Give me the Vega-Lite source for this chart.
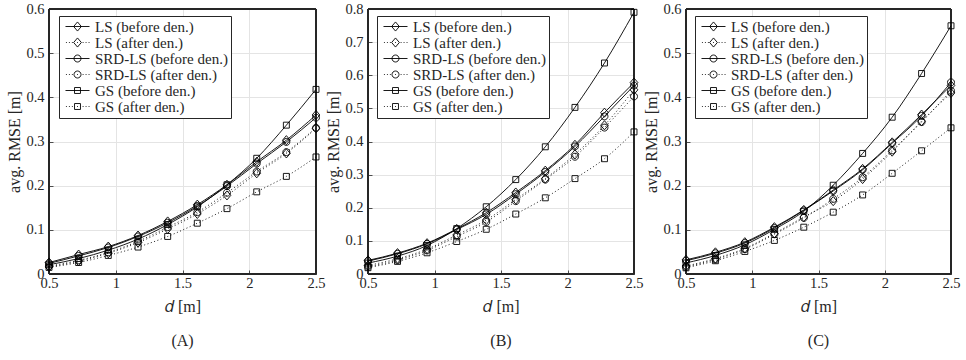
{
"$schema": "https://vega.github.io/schema/vega-lite/v6.json",
"background": "white",
"padding": {"left": 6, "top": 0, "right": 4, "bottom": 4},
"bounds": "flush",
"datasets": {"rmse": [
{"p":"A","s":"LS (before den.)","d":0.5,"v":0.026},{"p":"A","s":"LS (before den.)","d":0.722,"v":0.044},{"p":"A","s":"LS (before den.)","d":0.944,"v":0.062},{"p":"A","s":"LS (before den.)","d":1.167,"v":0.087},{"p":"A","s":"LS (before den.)","d":1.389,"v":0.119},{"p":"A","s":"LS (before den.)","d":1.611,"v":0.157},{"p":"A","s":"LS (before den.)","d":1.833,"v":0.202},{"p":"A","s":"LS (before den.)","d":2.056,"v":0.254},{"p":"A","s":"LS (before den.)","d":2.278,"v":0.303},{"p":"A","s":"LS (before den.)","d":2.5,"v":0.36},
{"p":"A","s":"LS (after den.)","d":0.5,"v":0.016},{"p":"A","s":"LS (after den.)","d":0.722,"v":0.029},{"p":"A","s":"LS (after den.)","d":0.944,"v":0.047},{"p":"A","s":"LS (after den.)","d":1.167,"v":0.071},{"p":"A","s":"LS (after den.)","d":1.389,"v":0.102},{"p":"A","s":"LS (after den.)","d":1.611,"v":0.136},{"p":"A","s":"LS (after den.)","d":1.833,"v":0.178},{"p":"A","s":"LS (after den.)","d":2.056,"v":0.228},{"p":"A","s":"LS (after den.)","d":2.278,"v":0.273},{"p":"A","s":"LS (after den.)","d":2.5,"v":0.33},
{"p":"A","s":"SRD-LS (before den.)","d":0.5,"v":0.024},{"p":"A","s":"SRD-LS (before den.)","d":0.722,"v":0.041},{"p":"A","s":"SRD-LS (before den.)","d":0.944,"v":0.06},{"p":"A","s":"SRD-LS (before den.)","d":1.167,"v":0.085},{"p":"A","s":"SRD-LS (before den.)","d":1.389,"v":0.116},{"p":"A","s":"SRD-LS (before den.)","d":1.611,"v":0.154},{"p":"A","s":"SRD-LS (before den.)","d":1.833,"v":0.199},{"p":"A","s":"SRD-LS (before den.)","d":2.056,"v":0.25},{"p":"A","s":"SRD-LS (before den.)","d":2.278,"v":0.299},{"p":"A","s":"SRD-LS (before den.)","d":2.5,"v":0.354},
{"p":"A","s":"SRD-LS (after den.)","d":0.5,"v":0.018},{"p":"A","s":"SRD-LS (after den.)","d":0.722,"v":0.031},{"p":"A","s":"SRD-LS (after den.)","d":0.944,"v":0.049},{"p":"A","s":"SRD-LS (after den.)","d":1.167,"v":0.074},{"p":"A","s":"SRD-LS (after den.)","d":1.389,"v":0.106},{"p":"A","s":"SRD-LS (after den.)","d":1.611,"v":0.14},{"p":"A","s":"SRD-LS (after den.)","d":1.833,"v":0.184},{"p":"A","s":"SRD-LS (after den.)","d":2.056,"v":0.232},{"p":"A","s":"SRD-LS (after den.)","d":2.278,"v":0.276},{"p":"A","s":"SRD-LS (after den.)","d":2.5,"v":0.331},
{"p":"A","s":"GS (before den.)","d":0.5,"v":0.021},{"p":"A","s":"GS (before den.)","d":0.722,"v":0.035},{"p":"A","s":"GS (before den.)","d":0.944,"v":0.054},{"p":"A","s":"GS (before den.)","d":1.167,"v":0.079},{"p":"A","s":"GS (before den.)","d":1.389,"v":0.112},{"p":"A","s":"GS (before den.)","d":1.611,"v":0.152},{"p":"A","s":"GS (before den.)","d":1.833,"v":0.202},{"p":"A","s":"GS (before den.)","d":2.056,"v":0.262},{"p":"A","s":"GS (before den.)","d":2.278,"v":0.337},{"p":"A","s":"GS (before den.)","d":2.5,"v":0.418},
{"p":"A","s":"GS (after den.)","d":0.5,"v":0.015},{"p":"A","s":"GS (after den.)","d":0.722,"v":0.026},{"p":"A","s":"GS (after den.)","d":0.944,"v":0.042},{"p":"A","s":"GS (after den.)","d":1.167,"v":0.061},{"p":"A","s":"GS (after den.)","d":1.389,"v":0.085},{"p":"A","s":"GS (after den.)","d":1.611,"v":0.115},{"p":"A","s":"GS (after den.)","d":1.833,"v":0.148},{"p":"A","s":"GS (after den.)","d":2.056,"v":0.186},{"p":"A","s":"GS (after den.)","d":2.278,"v":0.221},{"p":"A","s":"GS (after den.)","d":2.5,"v":0.265},
{"p":"B","s":"LS (before den.)","d":0.5,"v":0.041},{"p":"B","s":"LS (before den.)","d":0.722,"v":0.063},{"p":"B","s":"LS (before den.)","d":0.944,"v":0.093},{"p":"B","s":"LS (before den.)","d":1.167,"v":0.136},{"p":"B","s":"LS (before den.)","d":1.389,"v":0.185},{"p":"B","s":"LS (before den.)","d":1.611,"v":0.246},{"p":"B","s":"LS (before den.)","d":1.833,"v":0.312},{"p":"B","s":"LS (before den.)","d":2.056,"v":0.39},{"p":"B","s":"LS (before den.)","d":2.278,"v":0.487},{"p":"B","s":"LS (before den.)","d":2.5,"v":0.578},
{"p":"B","s":"LS (after den.)","d":0.5,"v":0.026},{"p":"B","s":"LS (after den.)","d":0.722,"v":0.046},{"p":"B","s":"LS (after den.)","d":0.944,"v":0.075},{"p":"B","s":"LS (after den.)","d":1.167,"v":0.118},{"p":"B","s":"LS (after den.)","d":1.389,"v":0.163},{"p":"B","s":"LS (after den.)","d":1.611,"v":0.225},{"p":"B","s":"LS (after den.)","d":1.833,"v":0.288},{"p":"B","s":"LS (after den.)","d":2.056,"v":0.361},{"p":"B","s":"LS (after den.)","d":2.278,"v":0.449},{"p":"B","s":"LS (after den.)","d":2.5,"v":0.556},
{"p":"B","s":"SRD-LS (before den.)","d":0.5,"v":0.039},{"p":"B","s":"SRD-LS (before den.)","d":0.722,"v":0.061},{"p":"B","s":"SRD-LS (before den.)","d":0.944,"v":0.091},{"p":"B","s":"SRD-LS (before den.)","d":1.167,"v":0.134},{"p":"B","s":"SRD-LS (before den.)","d":1.389,"v":0.18},{"p":"B","s":"SRD-LS (before den.)","d":1.611,"v":0.241},{"p":"B","s":"SRD-LS (before den.)","d":1.833,"v":0.308},{"p":"B","s":"SRD-LS (before den.)","d":2.056,"v":0.385},{"p":"B","s":"SRD-LS (before den.)","d":2.278,"v":0.476},{"p":"B","s":"SRD-LS (before den.)","d":2.5,"v":0.569},
{"p":"B","s":"SRD-LS (after den.)","d":0.5,"v":0.022},{"p":"B","s":"SRD-LS (after den.)","d":0.722,"v":0.042},{"p":"B","s":"SRD-LS (after den.)","d":0.944,"v":0.071},{"p":"B","s":"SRD-LS (after den.)","d":1.167,"v":0.113},{"p":"B","s":"SRD-LS (after den.)","d":1.389,"v":0.157},{"p":"B","s":"SRD-LS (after den.)","d":1.611,"v":0.22},{"p":"B","s":"SRD-LS (after den.)","d":1.833,"v":0.285},{"p":"B","s":"SRD-LS (after den.)","d":2.056,"v":0.354},{"p":"B","s":"SRD-LS (after den.)","d":2.278,"v":0.442},{"p":"B","s":"SRD-LS (after den.)","d":2.5,"v":0.536},
{"p":"B","s":"GS (before den.)","d":0.5,"v":0.033},{"p":"B","s":"GS (before den.)","d":0.722,"v":0.054},{"p":"B","s":"GS (before den.)","d":0.944,"v":0.086},{"p":"B","s":"GS (before den.)","d":1.167,"v":0.137},{"p":"B","s":"GS (before den.)","d":1.389,"v":0.203},{"p":"B","s":"GS (before den.)","d":1.611,"v":0.285},{"p":"B","s":"GS (before den.)","d":1.833,"v":0.384},{"p":"B","s":"GS (before den.)","d":2.056,"v":0.503},{"p":"B","s":"GS (before den.)","d":2.278,"v":0.637},{"p":"B","s":"GS (before den.)","d":2.5,"v":0.79},
{"p":"B","s":"GS (after den.)","d":0.5,"v":0.019},{"p":"B","s":"GS (after den.)","d":0.722,"v":0.038},{"p":"B","s":"GS (after den.)","d":0.944,"v":0.064},{"p":"B","s":"GS (after den.)","d":1.167,"v":0.098},{"p":"B","s":"GS (after den.)","d":1.389,"v":0.135},{"p":"B","s":"GS (after den.)","d":1.611,"v":0.181},{"p":"B","s":"GS (after den.)","d":1.833,"v":0.23},{"p":"B","s":"GS (after den.)","d":2.056,"v":0.288},{"p":"B","s":"GS (after den.)","d":2.278,"v":0.348},{"p":"B","s":"GS (after den.)","d":2.5,"v":0.429},
{"p":"C","s":"LS (before den.)","d":0.5,"v":0.032},{"p":"C","s":"LS (before den.)","d":0.722,"v":0.049},{"p":"C","s":"LS (before den.)","d":0.944,"v":0.072},{"p":"C","s":"LS (before den.)","d":1.167,"v":0.106},{"p":"C","s":"LS (before den.)","d":1.389,"v":0.145},{"p":"C","s":"LS (before den.)","d":1.611,"v":0.19},{"p":"C","s":"LS (before den.)","d":1.833,"v":0.238},{"p":"C","s":"LS (before den.)","d":2.056,"v":0.298},{"p":"C","s":"LS (before den.)","d":2.278,"v":0.361},{"p":"C","s":"LS (before den.)","d":2.5,"v":0.427},
{"p":"C","s":"LS (after den.)","d":0.5,"v":0.018},{"p":"C","s":"LS (after den.)","d":0.722,"v":0.035},{"p":"C","s":"LS (after den.)","d":0.944,"v":0.058},{"p":"C","s":"LS (after den.)","d":1.167,"v":0.092},{"p":"C","s":"LS (after den.)","d":1.389,"v":0.129},{"p":"C","s":"LS (after den.)","d":1.611,"v":0.165},{"p":"C","s":"LS (after den.)","d":1.833,"v":0.215},{"p":"C","s":"LS (after den.)","d":2.056,"v":0.277},{"p":"C","s":"LS (after den.)","d":2.278,"v":0.346},{"p":"C","s":"LS (after den.)","d":2.5,"v":0.41},
{"p":"C","s":"SRD-LS (before den.)","d":0.5,"v":0.03},{"p":"C","s":"SRD-LS (before den.)","d":0.722,"v":0.047},{"p":"C","s":"SRD-LS (before den.)","d":0.944,"v":0.07},{"p":"C","s":"SRD-LS (before den.)","d":1.167,"v":0.104},{"p":"C","s":"SRD-LS (before den.)","d":1.389,"v":0.144},{"p":"C","s":"SRD-LS (before den.)","d":1.611,"v":0.188},{"p":"C","s":"SRD-LS (before den.)","d":1.833,"v":0.236},{"p":"C","s":"SRD-LS (before den.)","d":2.056,"v":0.296},{"p":"C","s":"SRD-LS (before den.)","d":2.278,"v":0.358},{"p":"C","s":"SRD-LS (before den.)","d":2.5,"v":0.434},
{"p":"C","s":"SRD-LS (after den.)","d":0.5,"v":0.016},{"p":"C","s":"SRD-LS (after den.)","d":0.722,"v":0.033},{"p":"C","s":"SRD-LS (after den.)","d":0.944,"v":0.056},{"p":"C","s":"SRD-LS (after den.)","d":1.167,"v":0.09},{"p":"C","s":"SRD-LS (after den.)","d":1.389,"v":0.127},{"p":"C","s":"SRD-LS (after den.)","d":1.611,"v":0.17},{"p":"C","s":"SRD-LS (after den.)","d":1.833,"v":0.219},{"p":"C","s":"SRD-LS (after den.)","d":2.056,"v":0.28},{"p":"C","s":"SRD-LS (after den.)","d":2.278,"v":0.344},{"p":"C","s":"SRD-LS (after den.)","d":2.5,"v":0.415},
{"p":"C","s":"GS (before den.)","d":0.5,"v":0.025},{"p":"C","s":"GS (before den.)","d":0.722,"v":0.042},{"p":"C","s":"GS (before den.)","d":0.944,"v":0.066},{"p":"C","s":"GS (before den.)","d":1.167,"v":0.101},{"p":"C","s":"GS (before den.)","d":1.389,"v":0.142},{"p":"C","s":"GS (before den.)","d":1.611,"v":0.201},{"p":"C","s":"GS (before den.)","d":1.833,"v":0.273},{"p":"C","s":"GS (before den.)","d":2.056,"v":0.355},{"p":"C","s":"GS (before den.)","d":2.278,"v":0.454},{"p":"C","s":"GS (before den.)","d":2.5,"v":0.562},
{"p":"C","s":"GS (after den.)","d":0.5,"v":0.014},{"p":"C","s":"GS (after den.)","d":0.722,"v":0.03},{"p":"C","s":"GS (after den.)","d":0.944,"v":0.051},{"p":"C","s":"GS (after den.)","d":1.167,"v":0.076},{"p":"C","s":"GS (after den.)","d":1.389,"v":0.106},{"p":"C","s":"GS (after den.)","d":1.611,"v":0.14},{"p":"C","s":"GS (after den.)","d":1.833,"v":0.179},{"p":"C","s":"GS (after den.)","d":2.056,"v":0.228},{"p":"C","s":"GS (after den.)","d":2.278,"v":0.279},{"p":"C","s":"GS (after den.)","d":2.5,"v":0.331}
]},
"config": {
  "font": "Liberation Serif",
  "view": {"stroke": "#262626", "strokeWidth": 1},
  "axis": {"domain": false, "grid": true, "gridColor": "#e4e4e4", "gridWidth": 1, "ticks": true, "tickSize": -4, "tickColor": "#262626", "tickWidth": 0.8, "labelFlush": false, "labelFont": "Liberation Serif", "labelFontSize": 14.5, "labelColor": "#262626", "titleFont": "Liberation Serif", "titleFontSize": 16, "titleFontWeight": "normal", "titleColor": "#262626"},
  "axisX": {"labelPadding": 6, "titlePadding": 9},
  "axisY": {"labelPadding": 9, "titlePadding": 3},
  "legend": {"strokeColor": "#262626", "fillColor": "white", "padding": 3, "labelFont": "Liberation Serif", "labelFontSize": 15, "labelColor": "#262626", "symbolSize": 49, "symbolStrokeWidth": 0.9, "symbolStrokeColor": "black", "symbolFillColor": "transparent", "rowPadding": 0, "labelOffset": 10, "symbolOffset": 8},
  "title": {"font": "Liberation Serif", "fontSize": 16, "fontWeight": "normal", "color": "#262626", "orient": "bottom", "offset": 18}
},
"spacing": 52,
"resolve": {"scale": {"x": "independent", "y": "independent", "shape": "independent"}, "legend": {"shape": "independent"}},
"hconcat": [
{"width": 267, "height": 265, "title": "(A)", "data": {"name": "rmse"}, "transform": [{"filter": "datum.p == 'A'"}],
 "encoding": {"x": {"field": "d", "type": "quantitative", "scale": {"domain": [0.5, 2.5], "nice": false, "padding": 0}, "axis": {"values": [0.5, 1, 1.5, 2, 2.5], "format": "~g", "title": "𝑑 [m]", "gridOpacity": {"condition": {"test": "datum.value <= 0.5 || datum.value >= 2.5", "value": 0}, "value": 1}}},
  "y": {"field": "v", "type": "quantitative", "scale": {"domain": [0, 0.6], "nice": false, "padding": 0}, "axis": {"values": [0, 0.1, 0.2, 0.3, 0.4, 0.5, 0.6], "format": "~g", "title": "avg. RMSE [m]", "gridOpacity": {"condition": {"test": "datum.value <= 0 || datum.value >= 0.6", "value": 0}, "value": 1}}}},
 "layer": [
  {"mark": {"type": "rect", "fill": null, "fillOpacity": 0, "stroke": "#262626", "strokeWidth": 1}, "encoding": {"x": {"datum": 0.5}, "x2": {"datum": 2.5}, "y": {"datum": 0}, "y2": {"datum": 0.6}}},
  {"transform": [{"filter": "test(/before/, datum.s)"}], "mark": {"type": "line", "color": "black", "strokeWidth": 0.9, "interpolate": "monotone"}, "encoding": {"detail": {"field": "s"}}},
  {"transform": [{"filter": "test(/after/, datum.s)"}], "mark": {"type": "line", "color": "black", "strokeWidth": 0.9, "strokeDash": [1, 2.5], "interpolate": "monotone"}, "encoding": {"detail": {"field": "s"}}},
  {"transform": [{"filter": "test(/^LS /, datum.s)"}], "mark": {"type": "point", "shape": "M0,-1.3L1.1,0L0,1.3L-1.1,0Z", "filled": false, "color": "black", "size": 49, "strokeWidth": 0.9, "opacity": 1}},
  {"transform": [{"filter": "test(/^SRD/, datum.s)"}], "mark": {"type": "point", "shape": "M1,0A1,1,0,1,1,-1,0A1,1,0,1,1,1,0Z", "filled": false, "color": "black", "size": 49, "strokeWidth": 0.9, "opacity": 1}},
  {"transform": [{"filter": "test(/^GS/, datum.s)"}], "mark": {"type": "point", "shape": "M-0.85,-0.85H0.85V0.85H-0.85Z", "filled": false, "color": "black", "size": 49, "strokeWidth": 0.9, "opacity": 1}},
  {"mark": {"type": "point", "filled": false, "color": "black", "size": 49, "strokeWidth": 0.9, "opacity": 0},
   "encoding": {"shape": {"field": "s", "type": "nominal", "scale": {"domain": ["LS (before den.)", "LS (after den.)", "SRD-LS (before den.)", "SRD-LS (after den.)", "GS (before den.)", "GS (after den.)"], "range": ["M-3.43,0H3.43M0,-1.3L1.1,0L0,1.3L-1.1,0Z", "M-3.3,0h0.25M-2.45,0h0.25M-1.6,0h0.25M-0.12,0h0.25M1.47,0h0.25M2.32,0h0.25M3.17,0h0.25M0,-1.3L1.1,0L0,1.3L-1.1,0Z", "M-3.43,0H3.43M1,0A1,1,0,1,1,-1,0A1,1,0,1,1,1,0Z", "M-3.3,0h0.25M-2.45,0h0.25M-1.6,0h0.25M-0.12,0h0.25M1.47,0h0.25M2.32,0h0.25M3.17,0h0.25M1,0A1,1,0,1,1,-1,0A1,1,0,1,1,1,0Z", "M-3.43,0H3.43M-0.85,-0.85H0.85V0.85H-0.85Z", "M-3.3,0h0.25M-2.45,0h0.25M-1.6,0h0.25M-0.12,0h0.25M1.47,0h0.25M2.32,0h0.25M3.17,0h0.25M-0.85,-0.85H0.85V0.85H-0.85Z"]}, "legend": {"title": null, "orient": "none", "legendX": 10, "legendY": 7, "encode": {"symbols": {"update": {"opacity": {"value": 1}, "strokeOpacity": {"value": 1}}}}}}}}
 ]},
{"width": 266, "height": 265, "title": "(B)", "data": {"name": "rmse"}, "transform": [{"filter": "datum.p == 'B'"}],
 "encoding": {"x": {"field": "d", "type": "quantitative", "scale": {"domain": [0.5, 2.5], "nice": false, "padding": 0}, "axis": {"values": [0.5, 1, 1.5, 2, 2.5], "format": "~g", "title": "𝑑 [m]", "gridOpacity": {"condition": {"test": "datum.value <= 0.5 || datum.value >= 2.5", "value": 0}, "value": 1}}},
  "y": {"field": "v", "type": "quantitative", "scale": {"domain": [0, 0.8], "nice": false, "padding": 0}, "axis": {"values": [0, 0.1, 0.2, 0.3, 0.4, 0.5, 0.6, 0.7, 0.8], "format": "~g", "title": "avg. RMSE [m]", "gridOpacity": {"condition": {"test": "datum.value <= 0 || datum.value >= 0.8", "value": 0}, "value": 1}}}},
 "layer": [
  {"mark": {"type": "rect", "fill": null, "fillOpacity": 0, "stroke": "#262626", "strokeWidth": 1}, "encoding": {"x": {"datum": 0.5}, "x2": {"datum": 2.5}, "y": {"datum": 0}, "y2": {"datum": 0.8}}},
  {"transform": [{"filter": "test(/before/, datum.s)"}], "mark": {"type": "line", "color": "black", "strokeWidth": 0.9, "interpolate": "monotone"}, "encoding": {"detail": {"field": "s"}}},
  {"transform": [{"filter": "test(/after/, datum.s)"}], "mark": {"type": "line", "color": "black", "strokeWidth": 0.9, "strokeDash": [1, 2.5], "interpolate": "monotone"}, "encoding": {"detail": {"field": "s"}}},
  {"transform": [{"filter": "test(/^LS /, datum.s)"}], "mark": {"type": "point", "shape": "M0,-1.3L1.1,0L0,1.3L-1.1,0Z", "filled": false, "color": "black", "size": 49, "strokeWidth": 0.9, "opacity": 1}},
  {"transform": [{"filter": "test(/^SRD/, datum.s)"}], "mark": {"type": "point", "shape": "M1,0A1,1,0,1,1,-1,0A1,1,0,1,1,1,0Z", "filled": false, "color": "black", "size": 49, "strokeWidth": 0.9, "opacity": 1}},
  {"transform": [{"filter": "test(/^GS/, datum.s)"}], "mark": {"type": "point", "shape": "M-0.85,-0.85H0.85V0.85H-0.85Z", "filled": false, "color": "black", "size": 49, "strokeWidth": 0.9, "opacity": 1}},
  {"mark": {"type": "point", "filled": false, "color": "black", "size": 49, "strokeWidth": 0.9, "opacity": 0},
   "encoding": {"shape": {"field": "s", "type": "nominal", "scale": {"domain": ["LS (before den.)", "LS (after den.)", "SRD-LS (before den.)", "SRD-LS (after den.)", "GS (before den.)", "GS (after den.)"], "range": ["M-3.43,0H3.43M0,-1.3L1.1,0L0,1.3L-1.1,0Z", "M-3.3,0h0.25M-2.45,0h0.25M-1.6,0h0.25M-0.12,0h0.25M1.47,0h0.25M2.32,0h0.25M3.17,0h0.25M0,-1.3L1.1,0L0,1.3L-1.1,0Z", "M-3.43,0H3.43M1,0A1,1,0,1,1,-1,0A1,1,0,1,1,1,0Z", "M-3.3,0h0.25M-2.45,0h0.25M-1.6,0h0.25M-0.12,0h0.25M1.47,0h0.25M2.32,0h0.25M3.17,0h0.25M1,0A1,1,0,1,1,-1,0A1,1,0,1,1,1,0Z", "M-3.43,0H3.43M-0.85,-0.85H0.85V0.85H-0.85Z", "M-3.3,0h0.25M-2.45,0h0.25M-1.6,0h0.25M-0.12,0h0.25M1.47,0h0.25M2.32,0h0.25M3.17,0h0.25M-0.85,-0.85H0.85V0.85H-0.85Z"]}, "legend": {"title": null, "orient": "none", "legendX": 9, "legendY": 7, "encode": {"symbols": {"update": {"opacity": {"value": 1}, "strokeOpacity": {"value": 1}}}}}}}}
 ]},
{"width": 265, "height": 265, "title": "(C)", "data": {"name": "rmse"}, "transform": [{"filter": "datum.p == 'C'"}],
 "encoding": {"x": {"field": "d", "type": "quantitative", "scale": {"domain": [0.5, 2.5], "nice": false, "padding": 0}, "axis": {"values": [0.5, 1, 1.5, 2, 2.5], "format": "~g", "title": "𝑑 [m]", "gridOpacity": {"condition": {"test": "datum.value <= 0.5 || datum.value >= 2.5", "value": 0}, "value": 1}}},
  "y": {"field": "v", "type": "quantitative", "scale": {"domain": [0, 0.6], "nice": false, "padding": 0}, "axis": {"values": [0, 0.1, 0.2, 0.3, 0.4, 0.5, 0.6], "format": "~g", "title": "avg. RMSE [m]", "gridOpacity": {"condition": {"test": "datum.value <= 0 || datum.value >= 0.6", "value": 0}, "value": 1}}}},
 "layer": [
  {"mark": {"type": "rect", "fill": null, "fillOpacity": 0, "stroke": "#262626", "strokeWidth": 1}, "encoding": {"x": {"datum": 0.5}, "x2": {"datum": 2.5}, "y": {"datum": 0}, "y2": {"datum": 0.6}}},
  {"transform": [{"filter": "test(/before/, datum.s)"}], "mark": {"type": "line", "color": "black", "strokeWidth": 0.9, "interpolate": "monotone"}, "encoding": {"detail": {"field": "s"}}},
  {"transform": [{"filter": "test(/after/, datum.s)"}], "mark": {"type": "line", "color": "black", "strokeWidth": 0.9, "strokeDash": [1, 2.5], "interpolate": "monotone"}, "encoding": {"detail": {"field": "s"}}},
  {"transform": [{"filter": "test(/^LS /, datum.s)"}], "mark": {"type": "point", "shape": "M0,-1.3L1.1,0L0,1.3L-1.1,0Z", "filled": false, "color": "black", "size": 49, "strokeWidth": 0.9, "opacity": 1}},
  {"transform": [{"filter": "test(/^SRD/, datum.s)"}], "mark": {"type": "point", "shape": "M1,0A1,1,0,1,1,-1,0A1,1,0,1,1,1,0Z", "filled": false, "color": "black", "size": 49, "strokeWidth": 0.9, "opacity": 1}},
  {"transform": [{"filter": "test(/^GS/, datum.s)"}], "mark": {"type": "point", "shape": "M-0.85,-0.85H0.85V0.85H-0.85Z", "filled": false, "color": "black", "size": 49, "strokeWidth": 0.9, "opacity": 1}},
  {"mark": {"type": "point", "filled": false, "color": "black", "size": 49, "strokeWidth": 0.9, "opacity": 0},
   "encoding": {"shape": {"field": "s", "type": "nominal", "scale": {"domain": ["LS (before den.)", "LS (after den.)", "SRD-LS (before den.)", "SRD-LS (after den.)", "GS (before den.)", "GS (after den.)"], "range": ["M-3.43,0H3.43M0,-1.3L1.1,0L0,1.3L-1.1,0Z", "M-3.3,0h0.25M-2.45,0h0.25M-1.6,0h0.25M-0.12,0h0.25M1.47,0h0.25M2.32,0h0.25M3.17,0h0.25M0,-1.3L1.1,0L0,1.3L-1.1,0Z", "M-3.43,0H3.43M1,0A1,1,0,1,1,-1,0A1,1,0,1,1,1,0Z", "M-3.3,0h0.25M-2.45,0h0.25M-1.6,0h0.25M-0.12,0h0.25M1.47,0h0.25M2.32,0h0.25M3.17,0h0.25M1,0A1,1,0,1,1,-1,0A1,1,0,1,1,1,0Z", "M-3.43,0H3.43M-0.85,-0.85H0.85V0.85H-0.85Z", "M-3.3,0h0.25M-2.45,0h0.25M-1.6,0h0.25M-0.12,0h0.25M1.47,0h0.25M2.32,0h0.25M3.17,0h0.25M-0.85,-0.85H0.85V0.85H-0.85Z"]}, "legend": {"title": null, "orient": "none", "legendX": 9, "legendY": 7, "encode": {"symbols": {"update": {"opacity": {"value": 1}, "strokeOpacity": {"value": 1}}}}}}}}
 ]}
]
}
